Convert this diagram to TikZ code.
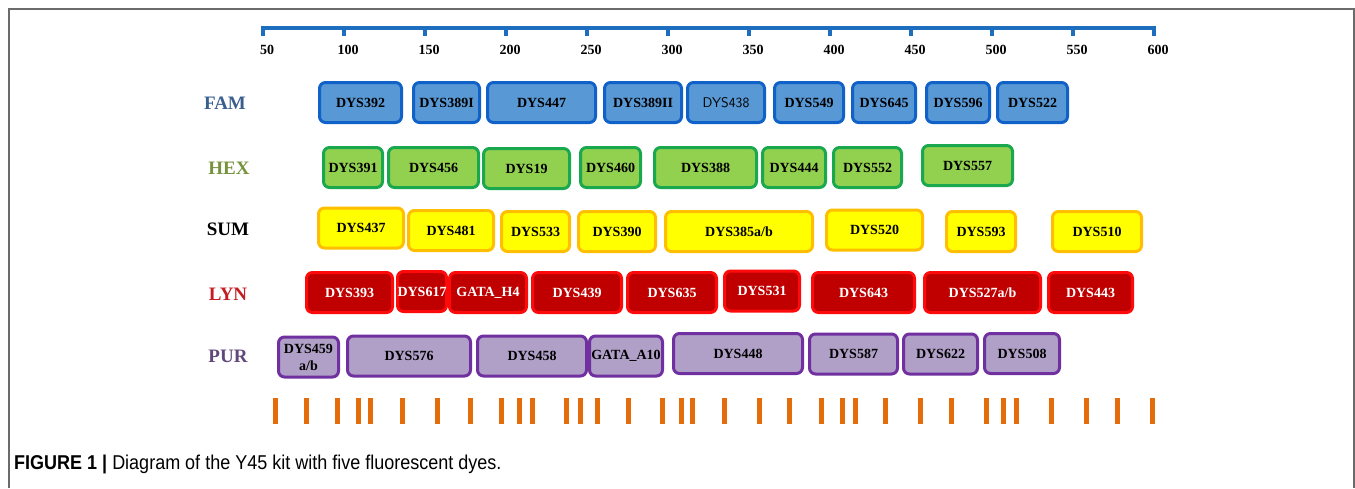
\documentclass[tikz,border=0pt]{standalone}
\usepackage{fontspec}
\setmainfont{Liberation Serif}
\newfontfamily\capfont[FakeStretch=0.9]{Liberation Sans}
\usepackage{tikz}
\usetikzlibrary{positioning}

\definecolor{axisblue}{RGB}{30,110,192}
\definecolor{famfill}{RGB}{88,152,212}
\definecolor{famdraw}{RGB}{16,98,200}
\definecolor{famtext}{RGB}{58,94,142}
\definecolor{hexfill}{RGB}{146,208,80}
\definecolor{hexdraw}{RGB}{26,168,78}
\definecolor{hextext}{RGB}{118,146,60}
\definecolor{sumfill}{RGB}{255,255,0}
\definecolor{sumdraw}{RGB}{255,190,0}
\definecolor{lynfill}{RGB}{192,0,0}
\definecolor{lyndraw}{RGB}{255,10,10}
\definecolor{lyntext}{RGB}{196,30,36}
\definecolor{purfill}{RGB}{176,160,200}
\definecolor{purdraw}{RGB}{112,48,160}
\definecolor{purtext}{RGB}{96,73,122}
\definecolor{peak}{RGB}{228,108,10}

\tikzstyle{locus} = [rectangle, rounded corners=6pt, line width=3pt, minimum height=40pt, inner sep=0pt, text centered, font=\bfseries\fontsize{14}{17}\selectfont]
\tikzstyle{famlocus} = [locus, fill=famfill, draw=famdraw]
\tikzstyle{hexlocus} = [locus, fill=hexfill, draw=hexdraw]
\tikzstyle{sumlocus} = [locus, fill=sumfill, draw=sumdraw]
\tikzstyle{lynlocus} = [locus, fill=lynfill, draw=lyndraw, text=white]
\tikzstyle{purlocus} = [locus, fill=purfill, draw=purdraw]
\tikzstyle{dye} = [font=\bfseries\fontsize{19}{22}\selectfont]

\begin{document}
\begin{tikzpicture}[x=1pt, y=-1pt]
\useasboundingbox (0,0) rectangle (1355,488);

% frame
\draw[line width=2pt, black!58] (9,488) -- (9,9) -- (1354,9) -- (1354,488);

% size axis
\draw[line width=4pt, axisblue] (261,28) -- (1156,28);
\foreach \i in {0,...,11}{
  \pgfmathtruncatemacro{\bp}{50+50*\i}
  \draw[line width=4pt, axisblue] (263+81*\i,28) -- (263+81*\i,36);
  \node (bp\bp) [font=\bfseries\fontsize{14}{16}\selectfont] at (267+81*\i,50) {\bp};
}

% dye labels
\node (fam) [dye, text=famtext] at (225,103) {FAM};
\node (hex) [dye, text=hextext] at (229,168) {HEX};
\node (sum) [dye, text=black] at (228,229) {SUM};
\node (lyn) [dye, text=lyntext] at (228,294) {LYN};
\node (pur) [dye, text=purtext] at (228,356) {PUR};

% FAM
\node (dys392)  [famlocus, minimum width=82pt]  at (360.5,102.5) {DYS392};
\node (dys389i) [famlocus, minimum width=66pt]  at (446.5,102.5) {DYS389I};
\node (dys447)  [famlocus, minimum width=108pt] at (541.5,102.5) {DYS447};
\node (dys389ii)[famlocus, minimum width=77pt]  at (643,102.5)   {DYS389II};
\node (dys438)  [famlocus, minimum width=77pt, font=\sffamily\fontsize{14}{17}\selectfont] at (726,102.5) {DYS438};
\node (dys549)  [famlocus, minimum width=69pt]  at (809,102.5)   {DYS549};
\node (dys645)  [famlocus, minimum width=63pt]  at (884,102.5)   {DYS645};
\node (dys596)  [famlocus, minimum width=63pt]  at (958,102.5)   {DYS596};
\node (dys522)  [famlocus, minimum width=70pt]  at (1032.5,102.5){DYS522};

% HEX
\node (dys391) [hexlocus, minimum width=59pt]  at (353,167.5)   {DYS391};
\node (dys456) [hexlocus, minimum width=90pt]  at (433.5,167.5) {DYS456};
\node (dys19)  [hexlocus, minimum width=86pt]  at (526.5,168.5) {DYS19};
\node (dys460) [hexlocus, minimum width=60pt]  at (610.5,167.5) {DYS460};
\node (dys388) [hexlocus, minimum width=102pt] at (705.5,167.5) {DYS388};
\node (dys444) [hexlocus, minimum width=63pt]  at (794,167.5)   {DYS444};
\node (dys552) [hexlocus, minimum width=68pt]  at (867.5,167.5) {DYS552};
\node (dys557) [hexlocus, minimum width=90pt]  at (967.5,165.5) {DYS557};

% SUM
\node (dys437)  [sumlocus, minimum width=85pt]  at (361,228)     {DYS437};
\node (dys481)  [sumlocus, minimum width=85pt]  at (451,230.5)   {DYS481};
\node (dys533)  [sumlocus, minimum width=68pt]  at (535.5,231.5) {DYS533};
\node (dys390)  [sumlocus, minimum width=77pt]  at (617,231.5)   {DYS390};
\node (dys385)  [sumlocus, minimum width=147pt] at (739,231.5)   {DYS385a/b};
\node (dys520)  [sumlocus, minimum width=96pt]  at (874.5,230)   {DYS520};
\node (dys593)  [sumlocus, minimum width=69pt]  at (981,231.5)   {DYS593};
\node (dys510)  [sumlocus, minimum width=89pt]  at (1097,231.5)  {DYS510};

% LYN
\node (dys393)  [lynlocus, minimum width=86pt]  at (349.5,292.5) {DYS393};
\node (dys617)  [lynlocus, minimum width=47pt]  at (422,291.5)   {DYS617};
\node (gatah4)  [lynlocus, minimum width=77pt]  at (488,292.5)   {GATA\_H4};
\node (dys439)  [lynlocus, minimum width=89pt]  at (577,292.5)   {DYS439};
\node (dys635)  [lynlocus, minimum width=89pt]  at (672,292.5)   {DYS635};
\node (dys531)  [lynlocus, minimum width=75pt]  at (762,291)     {DYS531};
\node (dys643)  [lynlocus, minimum width=102pt] at (863.5,292.5) {DYS643};
\node (dys527)  [lynlocus, minimum width=116pt] at (982.5,292.5) {DYS527a/b};
\node (dys443)  [lynlocus, minimum width=84pt]  at (1090.5,292.5){DYS443};

% PUR
\node (dys459)  [purlocus, minimum width=60pt, align=center] at (308.5,357) {DYS459\\a/b};
\node (dys576)  [purlocus, minimum width=123pt] at (409,356)    {DYS576};
\node (dys458)  [purlocus, minimum width=109pt] at (532,356)    {DYS458};
\node (gataa10) [purlocus, minimum width=73pt]  at (626,356)    {GATA\_A10};
\node (dys448)  [purlocus, minimum width=129pt] at (738,353.5)  {DYS448};
\node (dys587)  [purlocus, minimum width=88pt]  at (853.5,354)  {DYS587};
\node (dys622)  [purlocus, minimum width=74pt]  at (940.5,354)  {DYS622};
\node (dys508)  [purlocus, minimum width=75pt]  at (1022,353.5) {DYS508};

% size markers
\foreach \x in {275,306,337,358,370,402,437,470,501,519,532,566,580,597,628,662,681,692,724,759,789,821,842,855,885,920,951,986,1003,1016,1051,1086,1117,1152}
  \fill[peak] (\x-2.5,398) rectangle (\x+2.5,424);

% caption
\node (caption) [anchor=west, font=\capfont\fontsize{20}{24}\selectfont, inner sep=0pt] at (14,464) {\textbf{FIGURE 1 |} Diagram of the Y45 kit with five fluorescent dyes.};
\end{tikzpicture}
\end{document}
